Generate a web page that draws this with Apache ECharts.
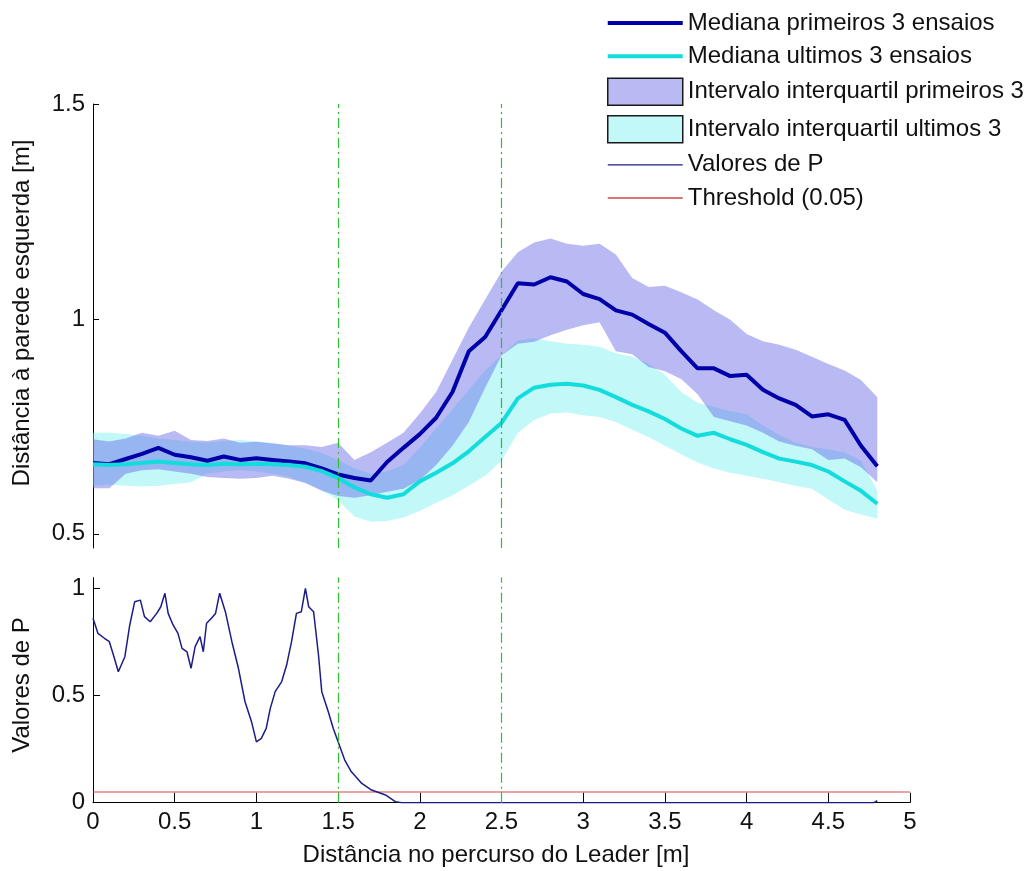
<!DOCTYPE html>
<html>
<head>
<meta charset="utf-8">
<script src="https://cdn.jsdelivr.net/npm/echarts@6/dist/echarts.min.js"></script>
<style>
  html, body { margin: 0; padding: 0; background: #fff; }
  #chart { width: 1026px; height: 871px; }
</style>
</head>
<body>
<div id="chart"></div>
<script>
// Distance along the leader's path [m], sampled every 0.1 m
const distance = [0, 0.1, 0.2, 0.3, 0.4, 0.5, 0.6, 0.7, 0.8, 0.9,
  1.0, 1.1, 1.2, 1.3, 1.4, 1.5, 1.6, 1.7, 1.8, 1.9,
  2.0, 2.1, 2.2, 2.3, 2.4, 2.5, 2.6, 2.7, 2.8, 2.9,
  3.0, 3.1, 3.2, 3.3, 3.4, 3.5, 3.6, 3.7, 3.8, 3.9,
  4.0, 4.1, 4.2, 4.3, 4.4, 4.5, 4.6, 4.7, 4.8];

// Median distance to the left wall, first 3 trials
const medianFirst = [0.665, 0.662, 0.674, 0.686, 0.700, 0.684, 0.678, 0.670, 0.680, 0.672,
  0.676, 0.672, 0.668, 0.664, 0.652, 0.638, 0.630, 0.624, 0.667, 0.700,
  0.732, 0.770, 0.830, 0.925, 0.958, 1.020, 1.083, 1.080, 1.097, 1.087,
  1.058, 1.046, 1.020, 1.010, 0.988, 0.968, 0.925, 0.885, 0.885, 0.867,
  0.870, 0.835, 0.815, 0.800, 0.773, 0.778, 0.765, 0.705, 0.657];

// Median distance to the left wall, last 3 trials
const medianLast = [0.662, 0.660, 0.662, 0.665, 0.668, 0.665, 0.662, 0.660, 0.663, 0.662,
  0.663, 0.662, 0.660, 0.656, 0.646, 0.630, 0.608, 0.592, 0.584, 0.592,
  0.622, 0.642, 0.664, 0.692, 0.725, 0.758, 0.815, 0.840, 0.847, 0.849,
  0.845, 0.835, 0.818, 0.800, 0.785, 0.767, 0.745, 0.728, 0.735, 0.720,
  0.707, 0.690, 0.675, 0.668, 0.660, 0.645, 0.622, 0.600, 0.570];

// Interquartile range, first 3 trials
const q1First = [0.606, 0.606, 0.640, 0.648, 0.650, 0.645, 0.640, 0.632, 0.630, 0.628,
  0.630, 0.635, 0.628, 0.618, 0.600, 0.588, 0.584, 0.590, 0.598, 0.605,
  0.625, 0.660, 0.705, 0.760, 0.840, 0.915, 0.942, 0.947, 0.962, 0.975,
  0.985, 0.992, 0.925, 0.918, 0.888, 0.878, 0.860, 0.825, 0.772, 0.762,
  0.752, 0.735, 0.715, 0.705, 0.697, 0.672, 0.675, 0.655, 0.620];
const q3First = [0.720, 0.715, 0.722, 0.735, 0.728, 0.740, 0.718, 0.716, 0.722, 0.712,
  0.714, 0.710, 0.706, 0.706, 0.702, 0.712, 0.672, 0.690, 0.712, 0.735,
  0.780, 0.830, 0.905, 0.980, 1.045, 1.110, 1.155, 1.178, 1.187, 1.175,
  1.170, 1.175, 1.150, 1.095, 1.074, 1.077, 1.062, 1.045, 1.020, 0.998,
  0.965, 0.948, 0.940, 0.928, 0.912, 0.895, 0.880, 0.858, 0.818];

// Interquartile range, last 3 trials
const q1Last = [0.612, 0.614, 0.612, 0.610, 0.612, 0.616, 0.620, 0.640, 0.645, 0.648,
  0.645, 0.640, 0.632, 0.618, 0.602, 0.578, 0.540, 0.528, 0.530, 0.538,
  0.553, 0.572, 0.590, 0.612, 0.635, 0.670, 0.735, 0.765, 0.780, 0.782,
  0.776, 0.772, 0.760, 0.742, 0.725, 0.705, 0.685, 0.666, 0.652, 0.642,
  0.635, 0.628, 0.620, 0.612, 0.605, 0.580, 0.556, 0.545, 0.535];
const q3Last = [0.735, 0.735, 0.732, 0.728, 0.722, 0.718, 0.714, 0.712, 0.716, 0.718,
  0.715, 0.712, 0.705, 0.698, 0.688, 0.672, 0.652, 0.640, 0.645, 0.660,
  0.700, 0.745, 0.790, 0.835, 0.880, 0.915, 0.950, 0.955, 0.948, 0.942,
  0.940, 0.935, 0.920, 0.912, 0.895, 0.870, 0.830, 0.805, 0.795, 0.785,
  0.778, 0.752, 0.730, 0.712, 0.702, 0.696, 0.690, 0.670, 0.600];

// P values of the comparison along the path
const pDistance = [0, 0.03, 0.07, 0.10, 0.125, 0.155, 0.195, 0.225, 0.255, 0.29,
  0.315, 0.35, 0.39, 0.415, 0.44, 0.46, 0.49, 0.52, 0.545, 0.575,
  0.60, 0.625, 0.655, 0.675, 0.695, 0.725, 0.75, 0.775, 0.81, 0.85,
  0.89, 0.93, 0.97, 1.0, 1.03, 1.06, 1.085, 1.115, 1.155, 1.185,
  1.215, 1.245, 1.275, 1.30, 1.32, 1.35, 1.38, 1.40, 1.44, 1.47,
  1.50, 1.54, 1.58, 1.645, 1.705, 1.79, 1.85, 1.89, 2.5, 3.0,
  3.5, 4.0, 4.5, 4.78, 4.8];
const pValues = [0.86, 0.79, 0.767, 0.751, 0.689, 0.611, 0.681, 0.829, 0.937, 0.945,
  0.868, 0.844, 0.883, 0.914, 0.977, 0.883, 0.829, 0.79, 0.72, 0.704,
  0.627, 0.728, 0.775, 0.704, 0.837, 0.86, 0.883, 0.977, 0.891, 0.751,
  0.627, 0.472, 0.378, 0.284, 0.30, 0.347, 0.44, 0.518, 0.565, 0.642,
  0.751, 0.883, 0.891, 1.0, 0.914, 0.891, 0.689, 0.518, 0.424, 0.347,
  0.284, 0.20, 0.145, 0.09, 0.059, 0.036, 0.005, 0.0, 0.0, 0.0,
  0.0, 0.0, 0.0, 0.0, 0.01];

const thresholdValue = 0.05;
const markerDistances = [1.5, 2.5];
const topTicks = [0.5, 1, 1.5];
const bottomTicks = [0, 0.5, 1];

const FONT = '"Liberation Sans", Arial, sans-serif';
const FS = 24;
const TEXT = '#111';

const COLOR_MED_FIRST = '#0000a8';
const COLOR_MED_LAST = '#12dcdc';
const COLOR_P = '#1c1c86';
const COLOR_THRESHOLD = '#d04848';
const COLOR_MARKER = '#2ec02e';

const pairs = (xs, ys) => xs.map((x, i) => [x, ys[i]]);

// Filled band between lower and upper quartiles, drawn as one polygon
function band(name, lower, upper, fill, legendColor) {
  return {
    name, type: 'custom', xAxisIndex: 0, yAxisIndex: 0, silent: true,
    data: distance.map((x, i) => [x, lower[i], upper[i]]),
    encode: { x: 0, y: [1, 2] },
    itemStyle: { color: legendColor },
    renderItem(params, api) {
      if (params.dataIndex !== 0) return null;
      const top = distance.map((x, i) => api.coord([x, upper[i]]));
      const bottom = distance.map((x, i) => api.coord([x, lower[i]])).reverse();
      return { type: 'polygon', shape: { points: top.concat(bottom) }, style: { fill } };
    }
  };
}

// Vertical dash-dot markers at the section boundaries
const markers = {
  silent: true,
  symbol: ['none', 'none'],
  label: { show: false },
  lineStyle: { color: COLOR_MARKER, width: 1.2, type: [10, 4, 2, 4], opacity: 1 },
  data: markerDistances.map(d => ({ xAxis: d }))
};

const chart = echarts.init(document.getElementById('chart'), null, { renderer: 'canvas' });

const yAxisCommon = {
  type: 'value',
  splitLine: { show: false },
  axisLine: { show: true, onZero: false, lineStyle: { color: '#000', width: 1 } },
  axisLabel: { color: TEXT, fontSize: FS, margin: 8, fontFamily: FONT }
};

const lineIcon = w => 'path://M0,0H75V' + w + 'H0Z';

chart.setOption({
  animation: false,
  backgroundColor: '#fff',
  textStyle: { fontFamily: FONT },
  grid: [
    { left: 93, width: 817, top: 104, height: 444, outerBoundsMode: 'none' },
    { left: 93, width: 817, top: 577.6, height: 225.1, outerBoundsMode: 'none' }
  ],
  xAxis: [
    { gridIndex: 0, type: 'value', min: 0, max: 5, interval: 0.5, show: false },
    {
      gridIndex: 1, type: 'value', min: 0, max: 5, interval: 0.5,
      splitLine: { show: false },
      axisLine: { show: true, onZero: false, lineStyle: { color: '#000', width: 1 } },
      axisTick: { show: true, inside: true, length: 10, lineStyle: { color: '#000' } },
      axisLabel: { color: TEXT, fontSize: FS, margin: 8, fontFamily: FONT }
    }
  ],
  yAxis: [
    Object.assign({}, yAxisCommon, {
      gridIndex: 0, min: 0.467, max: 1.5,
      axisTick: { show: true, inside: true, length: 6, lineStyle: { color: '#000' }, customValues: topTicks },
      axisLabel: Object.assign({}, yAxisCommon.axisLabel, { customValues: topTicks })
    }),
    Object.assign({}, yAxisCommon, {
      gridIndex: 1, min: 0, max: 1.05,
      axisTick: { show: true, inside: true, length: 7, lineStyle: { color: '#000' }, customValues: bottomTicks },
      axisLabel: Object.assign({}, yAxisCommon.axisLabel, { customValues: bottomTicks })
    })
  ],
  legend: {
    orient: 'vertical',
    left: 602, top: 6,
    itemWidth: 75, itemHeight: 27, itemGap: 9.2,
    selectedMode: false,
    symbolKeepAspect: true,
    textStyle: { color: TEXT, fontSize: FS, fontFamily: FONT },
    data: [
      { name: 'Mediana primeiros 3 ensaios', icon: lineIcon(4),
        itemStyle: { color: COLOR_MED_FIRST, borderWidth: 0 } },
      { name: 'Mediana ultimos 3 ensaios', icon: lineIcon(4),
        itemStyle: { color: COLOR_MED_LAST, borderWidth: 0 } },
      { name: 'Intervalo interquartil primeiros 3', icon: 'rect',
        itemStyle: { color: '#b9b9f4', borderColor: '#1a1a1a', borderWidth: 1.5, opacity: 1 } },
      { name: 'Intervalo interquartil ultimos 3', icon: 'rect',
        itemStyle: { color: '#c2f8f8', borderColor: '#1a1a1a', borderWidth: 1.5, opacity: 1 } },
      { name: 'Valores de P', icon: lineIcon(1.3),
        itemStyle: { color: COLOR_P, borderWidth: 0 } },
      { name: 'Threshold (0.05)', icon: lineIcon(1.3),
        itemStyle: { color: COLOR_THRESHOLD, borderWidth: 0 } }
    ]
  },
  graphic: [
    { type: 'text', x: 22, y: 313, rotation: Math.PI / 2, silent: true,
      style: { text: 'Distância à parede esquerda [m]', font: FS + 'px ' + FONT, fill: TEXT, align: 'center', verticalAlign: 'middle' } },
    { type: 'text', x: 22, y: 685, rotation: Math.PI / 2, silent: true,
      style: { text: 'Valores de P', font: FS + 'px ' + FONT, fill: TEXT, align: 'center', verticalAlign: 'middle' } },
    { type: 'text', x: 496, y: 855, silent: true,
      style: { text: 'Distância no percurso do Leader [m]', font: FS + 'px ' + FONT, fill: TEXT, align: 'center', verticalAlign: 'middle' } }
  ],
  series: [
    band('Intervalo interquartil ultimos 3', q1Last, q3Last, 'rgba(120,240,240,0.45)', '#c2f8f8'),
    band('Intervalo interquartil primeiros 3', q1First, q3First, 'rgba(100,100,230,0.45)', '#b9b9f4'),
    { name: 'Mediana primeiros 3 ensaios', type: 'line', xAxisIndex: 0, yAxisIndex: 0,
      data: pairs(distance, medianFirst), symbol: 'none', silent: true,
      itemStyle: { color: COLOR_MED_FIRST },
      lineStyle: { color: COLOR_MED_FIRST, width: 4 } },
    { name: 'Mediana ultimos 3 ensaios', type: 'line', xAxisIndex: 0, yAxisIndex: 0,
      data: pairs(distance, medianLast), symbol: 'none', silent: true,
      itemStyle: { color: COLOR_MED_LAST },
      lineStyle: { color: COLOR_MED_LAST, width: 4 },
      markLine: markers },
    { name: 'Threshold (0.05)', type: 'line', xAxisIndex: 1, yAxisIndex: 1,
      data: [[0, thresholdValue], [5, thresholdValue]], symbol: 'none', silent: true,
      itemStyle: { color: COLOR_THRESHOLD },
      lineStyle: { color: COLOR_THRESHOLD, width: 1.2 } },
    { name: 'Valores de P', type: 'line', xAxisIndex: 1, yAxisIndex: 1,
      data: pairs(pDistance, pValues), symbol: 'none', silent: true,
      itemStyle: { color: COLOR_P },
      lineStyle: { color: COLOR_P, width: 1.5 },
      markLine: markers }
  ]
});
</script>
</body>
</html>
